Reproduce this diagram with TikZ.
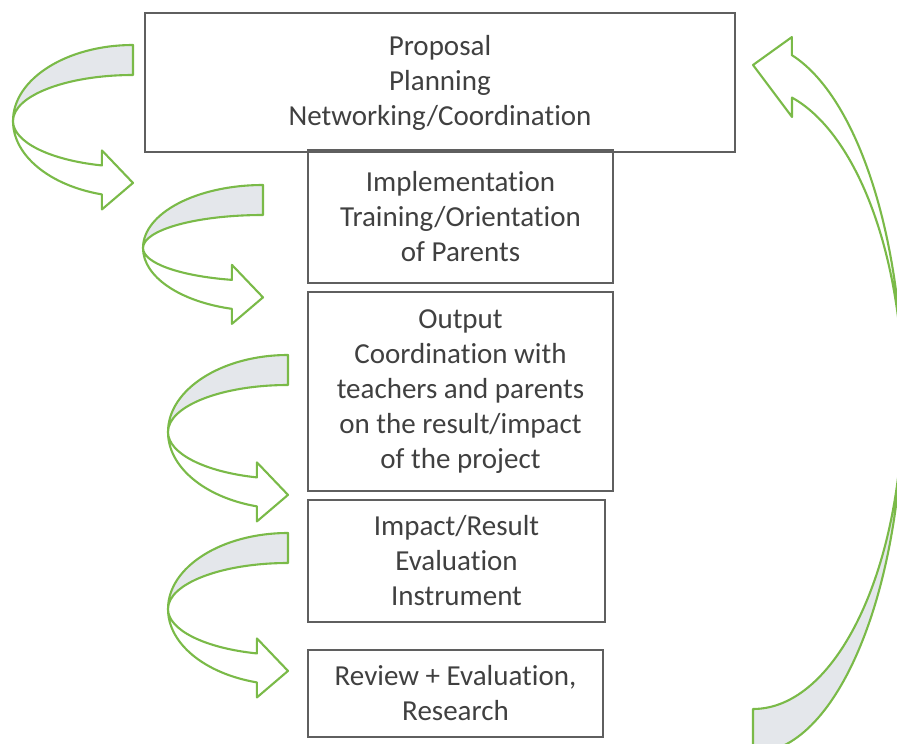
\documentclass[tikz,border=0pt]{standalone}
\usepackage{fontspec}
\setmainfont{Carlito}[Ligatures=NoCommon]
\definecolor{leaf}{RGB}{122,186,72}
\definecolor{backside}{RGB}{228,231,235}
\definecolor{inkgray}{RGB}{64,64,64}
\definecolor{framegray}{RGB}{95,95,95}
\tikzstyle{box}=[draw=framegray, line width=1.1pt, text=inkgray, align=center, inner sep=0pt, font=\fontsize{29}{35}\selectfont]
\tikzstyle{band}=[draw=leaf, line width=2.1pt, line join=round]

% turning arrow on the left: tail x, centre y, outer radius, inner radius
\newcommand{\turnarrow}[4]{%
  \draw[band, fill=backside] (#1,{-#2+#3}) arc[start angle=90, end angle=180, x radius=120, y radius=#3]
    arc[start angle=180, end angle=90, x radius=120, y radius=#4] -- cycle;
  \draw[band, fill=white] ({#1-120},-#2) arc[start angle=180, end angle=255, x radius=120, y radius=#3]
    -- ++(0,-15) -- (#1,{-#2-0.483*(#3+#4)-3}) -- ({#1-31.06},{-#2-0.966*#4+15})
    -- ({#1-31.06},{-#2-0.966*#4}) arc[start angle=255, end angle=180, x radius=120, y radius=#4] -- cycle;
}

\begin{document}
\begin{tikzpicture}[x=1pt, y=1pt]
    \useasboundingbox (0,0) rectangle (897,-744);
    \clip (0,0) rectangle (897,-744);

    \turnarrow{133}{121}{76}{46}
    \turnarrow{263}{248}{63}{33}
    \turnarrow{288}{432}{77}{47}
    \turnarrow{288}{609}{76}{46}

    % back to the start
    \draw[band, fill=backside] (903,-398) arc[start angle=0, end angle=-90, x radius=150, y radius=355]
      -- (753,-709) arc[start angle=-90, end angle=0, x radius=150, y radius=311] -- cycle;
    \draw[band, fill=white] (903,-398) arc[start angle=0, end angle=75, x radius=150, y radius=355]
      -- ++(0,18) -- (753,-65) -- (792,-117) -- (792,-97.6)
      arc[start angle=75, end angle=0, x radius=150, y radius=311] -- cycle;

    \node[box, minimum width=590pt, minimum height=139pt] (plan) at (440,-82.5)
      {Proposal\\Planning\\Networking/Coordination};
    \node[box, minimum width=305pt, minimum height=133pt] (impl) at (460.5,-216.5)
      {Implementation\\Training/Orientation\\of Parents};
    \node[box, minimum width=305pt, minimum height=199pt] (output) at (460.5,-391.5)
      {Output\\Coordination with\\teachers and parents\\on the result/impact\\of the project};
    \node[box, minimum width=297pt, minimum height=122pt] (impact) at (456.5,-561)
      {Impact/Result\\Evaluation\\Instrument};
    \node[box, minimum width=295pt, minimum height=87pt] (review) at (455.5,-693.5)
      {Review + Evaluation,\\Research};
\end{tikzpicture}
\end{document}
